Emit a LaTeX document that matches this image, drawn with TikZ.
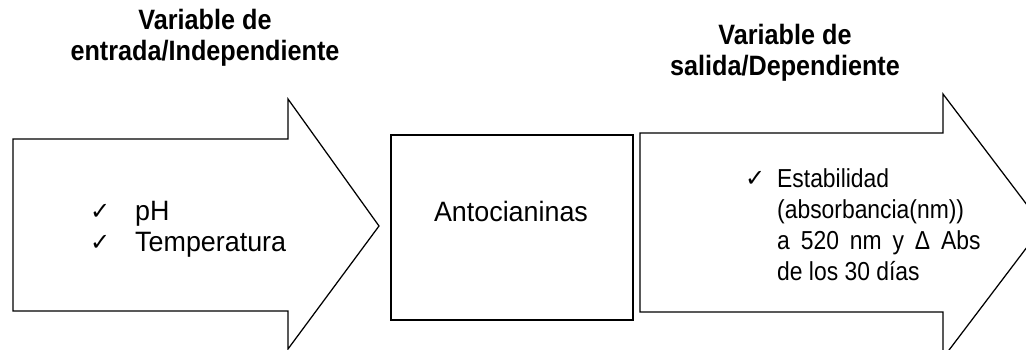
\documentclass[tikz,border=0pt]{standalone}
\usepackage{fontspec}
\setmainfont{Liberation Sans}[FakeStretch=0.96]
\newfontfamily\titlefont{Liberation Sans}[FakeStretch=0.9]
\newfontfamily\narrowfont{Liberation Sans}[FakeStretch=0.88]
\newfontfamily\checkfont{DejaVu Sans}
\tikzset{
  shapeline/.style={draw=black, line width=1.25pt, line join=miter},
  bodytext/.style={inner sep=0pt, font=\fontsize{28}{31}\selectfont, anchor=base west},
  righttext/.style={inner sep=0pt, font=\narrowfont\fontsize{26}{31}\selectfont, anchor=base west},
  titletext/.style={inner sep=0pt, font=\titlefont\fontsize{28}{31}\selectfont\bfseries, align=center},
  checkmark/.style={inner sep=0pt, font=\checkfont\fontsize{24}{26}\selectfont, anchor=base west}
}
\begin{document}
\begin{tikzpicture}[x=1pt,y=-1pt]
\useasboundingbox (0,0) rectangle (1026,349);
\begin{scope}
\clip (0,0) rectangle (1026,349);
% left arrow
\draw[shapeline] (13,139) -- (288,139) -- (288,99) -- (379,226) -- (288,349) -- (288,311) -- (13,311) -- cycle;
% middle box
\draw[shapeline] (391,135) rectangle (633,320);
% right arrow
\draw[shapeline] (640,133) -- (943,133) -- (943,94) -- (1043,226) -- (943,358) -- (943,312) -- (640,312) -- cycle;
\end{scope}
% titles
\node[titletext] (t1) at (205,38) {Variable de\\entrada/Independiente};
\node[titletext] (t2) at (785,53) {Variable de\\salida/Dependiente};
% left list
\node[checkmark] (c1) at (90,219) {✓};
\node[bodytext] (pH) at (135,220) {pH};
\node[checkmark] (c2) at (90,250) {✓};
\node[bodytext] (temp) at (135,251) {Temperatura};
% middle
\node[bodytext, anchor=base] (ant) at (511,221) {Antocianinas};
% right list
\node[checkmark] (c3) at (745,186) {✓};
\node[righttext] (e1) at (777,187) {Estabilidad};
\node[righttext] (e2) at (777,218) {(absorbancia(nm))};
\node[righttext] (e3) at (777,249) {a\hspace{0.42em}520\hspace{0.42em}nm\hspace{0.42em}y\hspace{0.42em}Δ\hspace{0.42em}Abs};
\node[righttext] (e4) at (777,280) {de los 30 días};
\end{tikzpicture}
\end{document}
